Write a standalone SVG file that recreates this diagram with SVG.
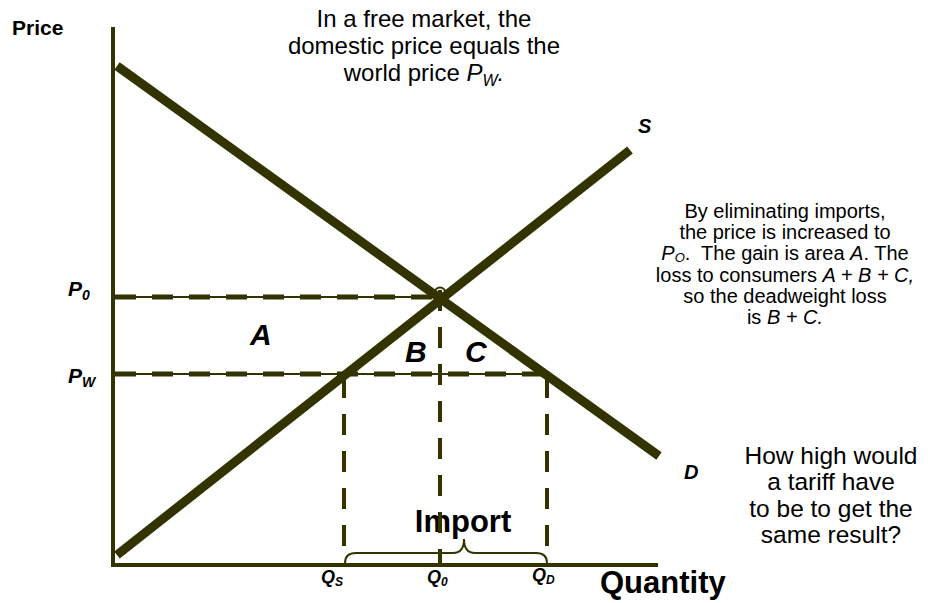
<svg xmlns="http://www.w3.org/2000/svg" width="934" height="603" viewBox="0 0 934 603">
<style>
text{font-family:"Liberation Sans",Arial,sans-serif;fill:#000}
.b{font-weight:bold}
.bi{font-weight:bold;font-style:italic}
.i{font-style:italic}
.axis{stroke:#333300;stroke-width:4;fill:none}
.curve{stroke:#333300;stroke-width:9;fill:none}
.thin{stroke:#333300;stroke-width:2;fill:none}
.dash{stroke:#333300;stroke-width:5;fill:none;stroke-dasharray:21 16}
.vdash{stroke:#333300;stroke-width:4;fill:none;stroke-dasharray:21 16}
.note{font-size:24px;text-anchor:middle}
.note2{font-size:20px;text-anchor:middle}
.note3{font-size:24.5px;text-anchor:middle}
</style>
<rect width="934" height="603" fill="#fff"/>
<g id="labels-top">
<text class="note" x="424" y="27">In a free market, the</text>
<text class="note" x="424" y="54">domestic price equals the</text>
<text class="note" x="424" y="81">world price <tspan class="i">P</tspan><tspan class="i" font-size="16" dy="5">W</tspan><tspan class="i" dy="-5">.</tspan></text>
</g>
<g id="note-right">
<text class="note2" x="785" y="218">By eliminating imports,</text>
<text class="note2" x="785" y="239">the price is increased to</text>
<text class="note2" x="785" y="260" xml:space="preserve"><tspan class="i">P</tspan><tspan class="i" font-size="13" dy="2">O</tspan><tspan dy="-2">.  The gain is area </tspan><tspan class="i">A</tspan>. The</text>
<text class="note2" x="785" y="282">loss to consumers <tspan class="i">A + B + C,</tspan></text>
<text class="note2" x="785" y="303">so the deadweight loss</text>
<text class="note2" x="785" y="324">is <tspan class="i">B + C.</tspan></text>
</g>
<g id="note-tariff">
<text class="note3" x="831" y="464">How high would</text>
<text class="note3" x="831" y="490">a tariff have</text>
<text class="note3" x="831" y="517">to be to get the</text>
<text class="note3" x="831" y="543">same result?</text>
</g>
<g id="import-label">
<text class="b" x="463" y="532" font-size="31" text-anchor="middle">Import</text>
</g>
<g id="axes">
<line class="axis" x1="113" y1="27" x2="113" y2="567"/>
<line class="axis" x1="111" y1="565" x2="658" y2="565"/>
<text class="b" x="12" y="35" font-size="21">Price</text>
<text class="b" x="600" y="593" font-size="31">Quantity</text>
</g>
<g id="connectors">
<line class="thin" x1="113" y1="297" x2="440" y2="297"/>
<line class="dash" x1="115" y1="297" x2="440" y2="297"/>
<line class="thin" x1="113" y1="374" x2="547" y2="374"/>
<line class="dash" x1="115" y1="374" x2="547" y2="374"/>
<line class="vdash" x1="344" y1="377" x2="344" y2="560"/>
<line class="vdash" x1="440" y1="290" x2="440" y2="565"/>
<line class="vdash" x1="547" y1="377" x2="547" y2="560"/>
<path class="thin" stroke-width="2.5" d="M345,563 Q345,553 356,553 L453,553 Q464,553 464,539 Q464,553 475,553 L536,553 Q547,553 547,563"/>
</g>
<g id="demand">
<line class="curve" x1="117" y1="66" x2="659" y2="456"/>
<text class="bi" x="684" y="479" font-size="20">D</text>
</g>
<g id="supply">
<line class="curve" x1="117" y1="555" x2="630" y2="150"/>
<text class="bi" x="638" y="133" font-size="20">S</text>
</g>
<g id="equilibrium">
<circle cx="440" cy="293" r="5.5" fill="none" stroke="#333300" stroke-width="2"/>
</g>
<g id="price-labels">
<text class="bi" x="68" y="296" font-size="21">P<tspan font-size="14" dy="4">0</tspan></text>
<text class="bi" x="68" y="383" font-size="21">P<tspan font-size="14" dy="4">W</tspan></text>
</g>
<g id="areas">
<text class="bi" x="250" y="345" font-size="30">A</text>
<text class="bi" x="405" y="362" font-size="30">B</text>
<text class="bi" x="465" y="362" font-size="30">C</text>
</g>
<g id="quantity-labels">
<text class="bi" x="321" y="583" font-size="18">Q<tspan font-size="12" dy="3">S</tspan></text>
<text class="bi" x="427" y="583" font-size="18">Q<tspan font-size="12" dy="3">0</tspan></text>
<text class="bi" x="532" y="581" font-size="18">Q<tspan font-size="12" dy="3">D</tspan></text>
</g>
</svg>
